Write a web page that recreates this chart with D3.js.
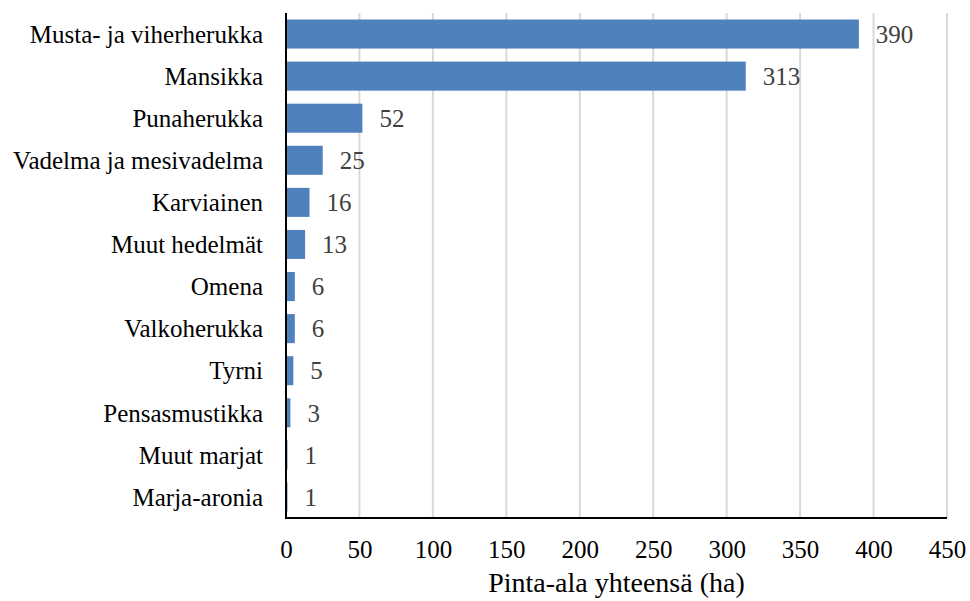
<!DOCTYPE html>
<html>
<head>
<meta charset="utf-8">
<script src="https://cdn.jsdelivr.net/npm/d3@7"></script>
<style>
  body { margin: 0; background: #fff; }
  text { font-family: "Liberation Serif", "DejaVu Serif", serif; }
</style>
</head>
<body>
<svg id="chart" width="970" height="601"></svg>
<script>
// categories top to bottom
var categories = ['Musta- ja viherherukka', 'Mansikka', 'Punaherukka', 'Vadelma ja mesivadelma',
    'Karviainen', 'Muut hedelmät', 'Omena', 'Valkoherukka', 'Tyrni', 'Pensasmustikka',
    'Muut marjat', 'Marja-aronia'];
var values = [390, 313, 52, 25, 16, 13, 6, 6, 5, 3, 1, 1];
var xTicks = [0, 50, 100, 150, 200, 250, 300, 350, 400, 450];
var xTitle = 'Pinta-ala yhteensä (ha)';

var svg = d3.select('#chart');
var plotLeft = 286, plotRight = 947, plotTop = 13, plotBottom = 518;

var x = d3.scaleLinear().domain([0, 450]).range([plotLeft, plotRight]);
var y = d3.scaleBand().domain(categories).range([plotTop, plotBottom]).paddingInner(0.31).paddingOuter(0.155);

var data = categories.map(function(c, i) { return { name: c, value: values[i] }; });

// gridlines
svg.append('g')
    .selectAll('line')
    .data(xTicks.slice(1))
    .enter().append('line')
    .attr('x1', function(d) { return x(d); })
    .attr('x2', function(d) { return x(d); })
    .attr('y1', plotTop)
    .attr('y2', plotBottom)
    .style('stroke', '#d9d9d9')
    .style('stroke-width', 2);

// bars
svg.append('g')
    .selectAll('rect')
    .data(data)
    .enter().append('rect')
    .attr('x', x(0))
    .attr('y', function(d) { return y(d.name); })
    .attr('width', function(d) { return x(d.value) - x(0); })
    .attr('height', y.bandwidth())
    .style('fill', '#4f81bd');

// value labels
svg.append('g')
    .selectAll('text')
    .data(data)
    .enter().append('text')
    .attr('x', function(d) { return x(d.value) + 17; })
    .attr('y', function(d) { return y(d.name) + y.bandwidth() / 2; })
    .attr('dy', '0.35em')
    .style('font-size', '25px')
    .style('fill', '#404040')
    .text(function(d) { return d.value; });

// category labels
svg.append('g')
    .selectAll('text')
    .data(categories)
    .enter().append('text')
    .attr('x', 263)
    .attr('y', function(d) { return y(d) + y.bandwidth() / 2; })
    .attr('dy', '0.35em')
    .style('text-anchor', 'end')
    .style('font-size', '25px')
    .style('fill', '#000')
    .text(function(d) { return d; });

// x axis
var xAxis = d3.axisBottom(x).tickValues(xTicks).tickSize(0).tickPadding(22);
var gx = svg.append('g')
    .attr('transform', 'translate(0,' + plotBottom + ')')
    .call(xAxis);
gx.select('.domain').remove();
gx.selectAll('text')
    .attr('y', 40)
    .attr('dy', null)
    .style('font-family', '"Liberation Serif", serif')
    .style('font-size', '25px')
    .style('fill', '#000');

// axis lines
svg.append('line')
    .attr('x1', plotLeft).attr('x2', plotLeft)
    .attr('y1', plotTop).attr('y2', plotBottom + 1)
    .style('stroke', '#000').style('stroke-width', 2);
svg.append('line')
    .attr('x1', plotLeft - 1).attr('x2', plotRight)
    .attr('y1', plotBottom).attr('y2', plotBottom)
    .style('stroke', '#000').style('stroke-width', 2);

// axis title
svg.append('text')
    .attr('x', (plotLeft + plotRight) / 2)
    .attr('y', 592)
    .style('text-anchor', 'middle')
    .style('font-size', '28px')
    .style('fill', '#000')
    .text(xTitle);
</script>
</body>
</html>
